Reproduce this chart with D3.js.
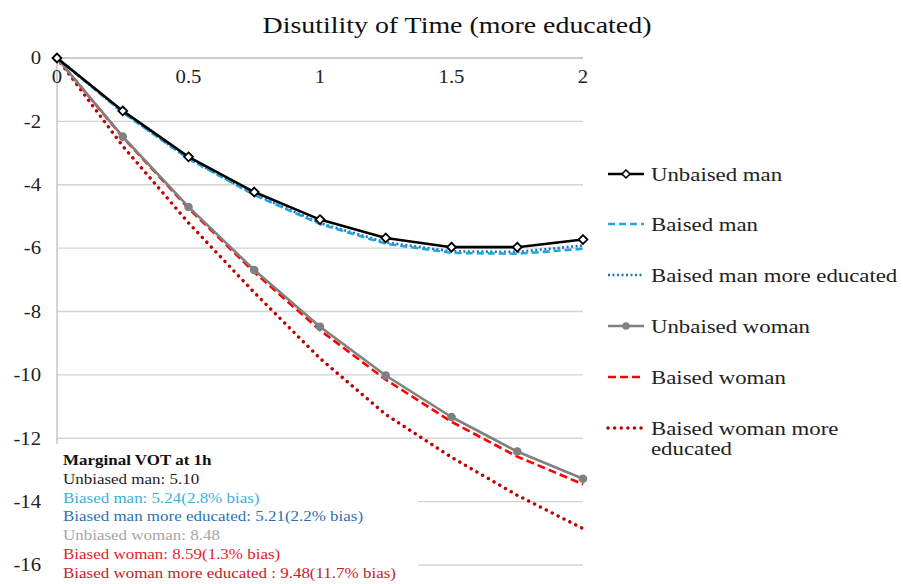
<!DOCTYPE html>
<html>
<head>
<meta charset="utf-8">
<script src="https://cdn.jsdelivr.net/npm/d3@7"></script>
<style>
  body { margin: 0; background: #fff; }
  text { font-family: "Liberation Serif", "DejaVu Serif", serif; }
</style>
</head>
<body>
<div id="chart"></div>
<script>
// data
var hours = [0, 0.25, 0.5, 0.75, 1, 1.25, 1.5, 1.75, 2];
var unbiasedMan = [0, -1.67, -3.12, -4.23, -5.10, -5.68, -5.97, -5.97, -5.73];
var biasedMan = [0, -1.72, -3.18, -4.32, -5.24, -5.86, -6.15, -6.18, -6.02];
var biasedManEdu = [0, -1.71, -3.17, -4.30, -5.21, -5.82, -6.10, -6.12, -5.92];
var unbiasedWoman = [0, -2.48, -4.70, -6.69, -8.48, -10.02, -11.33, -12.42, -13.28];
var biasedWoman = [0, -2.50, -4.74, -6.76, -8.59, -10.15, -11.48, -12.58, -13.45];
var biasedWomanEdu = [0, -2.78, -5.20, -7.40, -9.48, -11.25, -12.60, -13.80, -14.85];

var xTicks = [0, 0.5, 1, 1.5, 2];
var yTicks = [0, -2, -4, -6, -8, -10, -12, -14, -16];

var seriesNames = ["Unbaised man", "Baised man", "Baised man more educated",
  "Unbaised woman", "Baised woman", "Baised woman more educated"];

var notes = [
  ["Marginal VOT at 1h", "#111", true],
  ["Unbiased man: 5.10", "#222", false],
  ["Biased man: 5.24(2.8% bias)", "#3bb0e0", false],
  ["Biased man more educated: 5.21(2.2% bias)", "#2b72b4", false],
  ["Unbiased woman: 8.48", "#a6a6a6", false],
  ["Biased woman: 8.59(1.3% bias)", "#e8202a", false],
  ["Biased woman more educated : 9.48(11.7% bias)", "#c8202a", false]
];

var series = [
  { name: seriesNames[0], values: unbiasedMan, color: "#000", width: 2.6, dash: null, marker: "diamond" },
  { name: seriesNames[1], values: biasedMan, color: "#1ea6e4", width: 2.6, dash: "7,4", marker: null },
  { name: seriesNames[2], values: biasedManEdu, color: "#1f72b8", width: 2.6, dash: "2,2.5", marker: null },
  { name: seriesNames[3], values: unbiasedWoman, color: "#808080", width: 2.6, dash: null, marker: "circle" },
  { name: seriesNames[4], values: biasedWoman, color: "#ff0000", width: 2.6, dash: "8,4", marker: null },
  { name: seriesNames[5], values: biasedWomanEdu, color: "#c00000", width: 3.4, dash: "0.1,6.5", marker: null, round: true }
];

var W = 903, H = 584;
var svg = d3.select("#chart").append("svg").attr("width", W).attr("height", H);

var x = d3.scaleLinear().domain([0, 2]).range([57, 583]);
var y = d3.scaleLinear().domain([-16, 0]).range([565, 58]);

// the reference font is wider than ours, so stretch text a bit
function stretch(sel, f) {
  sel.each(function () {
    var w = this.getComputedTextLength();
    d3.select(this).attr("textLength", w * f).attr("lengthAdjust", "spacingAndGlyphs");
  });
}

// grid
svg.append("g").selectAll("line").data(yTicks.slice(1)).enter().append("line")
  .attr("x1", x(0)).attr("x2", x(2))
  .attr("y1", d => y(d)).attr("y2", d => y(d))
  .attr("stroke", "#d4d4d4").attr("stroke-width", 1.3);

// y axis line and the top x axis (value 0)
svg.append("line").attr("x1", x(0)).attr("x2", x(0)).attr("y1", y(0)).attr("y2", y(-16))
  .attr("stroke", "#bdbdbd").attr("stroke-width", 1.3);
svg.append("line").attr("x1", x(0)).attr("x2", x(2)).attr("y1", y(0)).attr("y2", y(0))
  .attr("stroke", "#bdbdbd").attr("stroke-width", 1.3);

var yLab = svg.append("g").selectAll("text").data(yTicks).enter().append("text")
  .attr("x", 41).attr("y", d => y(d)).attr("dy", "0.35em")
  .attr("text-anchor", "end").attr("font-size", 18).attr("fill", "#222")
  .text(d => d);
stretch(yLab, 1.15);

var xLab = svg.append("g").selectAll("text").data(xTicks).enter().append("text")
  .attr("x", d => x(d)).attr("y", 77).attr("dy", "0.35em")
  .attr("text-anchor", "middle").attr("font-size", 18).attr("fill", "#222")
  .text(d => d);
stretch(xLab, 1.15);

// title
var title = svg.append("text").attr("x", 457).attr("y", 33).attr("text-anchor", "middle")
  .attr("font-size", 23).attr("fill", "#111")
  .text("Disutility of Time (more educated)");
stretch(title, 389 / title.node().getComputedTextLength());

var line = d3.line().x((d, i) => x(hours[i])).y(d => y(d));

// draw order: women first, men on top like the picture
var order = [5, 4, 3, 2, 1, 0];
order.forEach(function (k) {
  var s = series[k];
  svg.append("path").datum(s.values)
    .attr("d", line)
    .attr("fill", "none")
    .attr("stroke", s.color)
    .attr("stroke-width", s.width)
    .attr("stroke-dasharray", s.dash)
    .attr("stroke-linecap", s.round ? "round" : "butt")
    .attr("stroke-linejoin", "round");
  if (s.marker == "diamond") {
    svg.append("g").selectAll("path").data(s.values).enter().append("path")
      .attr("d", d3.symbol().type(d3.symbolDiamond2).size(50))
      .attr("transform", (d, i) => `translate(${x(hours[i])},${y(d)})`)
      .attr("fill", "#fff").attr("stroke", "#000").attr("stroke-width", 1.8);
  } else if (s.marker == "circle") {
    svg.append("g").selectAll("circle").data(s.values).enter().append("circle")
      .attr("cx", (d, i) => x(hours[i])).attr("cy", d => y(d)).attr("r", 4.3)
      .attr("fill", "#808080");
  }
});

// legend
var legRows = [174, 224, 275, 326, 377, 428];
series.forEach(function (s, i) {
  var g = svg.append("g").attr("transform", `translate(0,${legRows[i]})`);
  g.append("line").attr("x1", 608).attr("x2", 644).attr("y1", 0).attr("y2", 0)
    .attr("stroke", s.color).attr("stroke-width", s.width)
    .attr("stroke-dasharray", s.dash)
    .attr("stroke-linecap", s.round ? "round" : "butt");
  if (s.marker == "diamond") {
    g.append("path").attr("d", d3.symbol().type(d3.symbolDiamond2).size(40))
      .attr("transform", "translate(626,0)")
      .attr("fill", "#fff").attr("stroke", "#000").attr("stroke-width", 1.6);
  } else if (s.marker == "circle") {
    g.append("circle").attr("cx", 626).attr("cy", 0).attr("r", 3.8).attr("fill", "#808080");
  }
  var lines = i == 5 ? ["Baised woman more", "educated"] : [s.name];
  lines.forEach(function (txt, j) {
    var t = g.append("text").attr("x", 651).attr("y", j * 20).attr("dy", "0.35em")
      .attr("font-size", 19).attr("fill", "#222").text(txt);
    stretch(t, 1.2);
  });
});

// annotation box (white, covers the grid underneath)
svg.append("rect").attr("x", 50).attr("y", 444).attr("width", 368).attr("height", 140).attr("fill", "#fff");
var noteText = svg.append("g").selectAll("text").data(notes).enter().append("text")
  .attr("x", 63).attr("y", (d, i) => 465 + i * 18.8)
  .attr("font-size", 14.5)
  .attr("font-weight", d => d[2] ? "bold" : null)
  .attr("fill", d => d[1])
  .text(d => d[0]);
stretch(noteText, 1.17);
</script>
</body>
</html>
